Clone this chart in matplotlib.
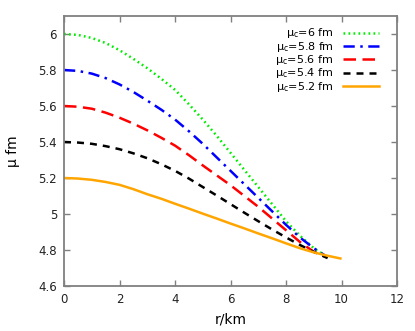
import matplotlib
matplotlib.use("Agg")
import matplotlib.pyplot as plt

# data
x6 = [0, 0.5, 1, 1.5, 2, 2.5, 3, 3.5, 4, 4.5, 5, 5.5, 6, 6.5, 7, 7.5, 8, 8.5, 9, 9.3]
y6 = [6.0, 5.995, 5.978, 5.95, 5.91, 5.862, 5.81, 5.752, 5.69, 5.61, 5.525, 5.435,
      5.34, 5.245, 5.15, 5.055, 4.96, 4.88, 4.81, 4.78]

x58 = [0, 0.5, 1, 1.5, 2, 2.5, 3, 3.5, 4, 4.5, 5, 5.5, 6, 6.5, 7, 7.5, 8, 8.5, 9, 9.4]
y58 = [5.80, 5.795, 5.78, 5.755, 5.72, 5.678, 5.63, 5.58, 5.525, 5.46, 5.39, 5.315,
       5.24, 5.165, 5.09, 5.015, 4.94, 4.87, 4.81, 4.77]

x56 = [0, 0.5, 1, 1.5, 2, 2.5, 3, 3.5, 4, 4.5, 5, 5.5, 6, 6.5, 7, 7.5, 8, 8.5, 9, 9.45]
y56 = [5.60, 5.596, 5.585, 5.563, 5.535, 5.502, 5.465, 5.424, 5.38, 5.327, 5.27, 5.215,
       5.16, 5.10, 5.04, 4.975, 4.91, 4.845, 4.79, 4.76]

x54 = [0, 0.5, 1, 1.5, 2, 2.5, 3, 3.5, 4, 4.5, 5, 5.5, 6, 6.5, 7, 7.5, 8, 8.5, 9, 9.5]
y54 = [5.40, 5.397, 5.39, 5.377, 5.36, 5.337, 5.31, 5.277, 5.24, 5.197, 5.15, 5.103,
       5.055, 5.007, 4.96, 4.914, 4.87, 4.828, 4.79, 4.755]

x52 = [0, 0.5, 1, 1.5, 2, 2.5, 3, 3.5, 4, 4.5, 5, 5.5, 6, 6.5, 7, 7.5, 8, 8.5, 9, 9.5, 9.96]
y52 = [5.20, 5.197, 5.19, 5.178, 5.162, 5.138, 5.11, 5.085, 5.057, 5.03, 5.002, 4.975,
       4.947, 4.92, 4.892, 4.865, 4.837, 4.81, 4.787, 4.768, 4.753]

labels = ["μ$_{\\mathrm{c}}$=6 fm", "μ$_{\\mathrm{c}}$=5.8 fm", "μ$_{\\mathrm{c}}$=5.6 fm",
          "μ$_{\\mathrm{c}}$=5.4 fm", "μ$_{\\mathrm{c}}$=5.2 fm"]
xticks = [0, 2, 4, 6, 8, 10, 12]
yticks = [4.6, 4.8, 5, 5.2, 5.4, 5.6, 5.8, 6]
ytick_labels = ["4.6", "4.8", "5", "5.2", "5.4", "5.6", "5.8", "6"]

plt.rcParams['font.family'] = ['DejaVu Sans']
plt.rcParams['mathtext.fontset'] = 'dejavusans'

fig = plt.figure(figsize=(4.15, 3.31), dpi=100)
ax = fig.add_axes([64/415, 1-286/331, (397-64)/415, (286-16)/331])

lw = 1.8
ax.plot(x6, y6, color='#00ee00', lw=lw, dashes=(0.7, 1.3), label=labels[0])
ax.plot(x58, y58, color='#0000ff', lw=lw, dashes=(4.5, 2.2, 1.0, 2.2), label=labels[1])
ax.plot(x56, y56, color='#ff0000', lw=lw, dashes=(5.0, 2.6), label=labels[2])
ax.plot(x54, y54, color='black', lw=lw, dashes=(2.8, 2.4), label=labels[3])
ax.plot(x52, y52, color='#ffa500', lw=lw, label=labels[4])

ax.set_xlim(0, 12)
ax.set_ylim(4.6, 6.1)
ax.set_xticks(xticks)
ax.set_yticks(yticks)
ax.set_yticklabels(ytick_labels)

for s in ax.spines.values():
    s.set_color('#808080')
    s.set_linewidth(1.3)
ax.tick_params(direction='in', length=4, width=1, color='#808080',
               top=True, right=True, labelsize=8.5, labelcolor='#222222')
ax.tick_params(axis='x', pad=5)
ax.tick_params(axis='y', pad=5)

ax.set_xlabel('r/km', fontsize=10, labelpad=5)
ax.set_ylabel('μ fm', fontsize=10, labelpad=13)

leg = ax.legend(loc='upper right', bbox_to_anchor=((379-64)/333, 1-(26.5-16)/270),
                frameon=False, markerfirst=False, fontsize=8, handlelength=3.2,
                handletextpad=0.9, labelspacing=-0.06, borderaxespad=0, borderpad=0)

fig.savefig('out.png', dpi=100)
